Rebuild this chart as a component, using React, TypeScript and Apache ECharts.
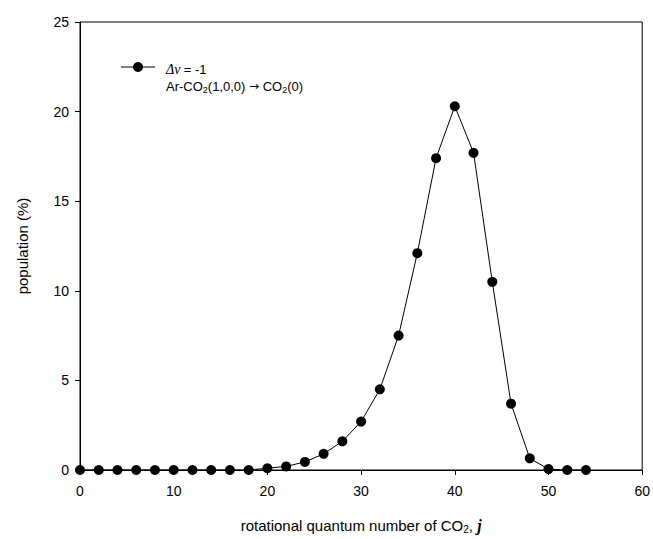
import React, { useEffect, useRef } from "react";
import * as echarts from "echarts";

const jValues = [0, 2, 4, 6, 8, 10, 12, 14, 16, 18, 20, 22, 24, 26, 28, 30, 32, 34, 36, 38, 40, 42, 44, 46, 48, 50, 52, 54];
const population = [0, 0, 0, 0, 0, 0, 0, 0, 0, 0, 0.1, 0.2, 0.45, 0.9, 1.6, 2.7, 4.5, 7.5, 12.1, 17.4, 20.3, 17.7, 10.5, 3.7, 0.65, 0.05, 0, 0];
const xTicks = [0, 10, 20, 30, 40, 50, 60];
const yTicks = [0, 5, 10, 15, 20, 25];

const FONT = "Liberation Sans, Arial, sans-serif";

export default function App() {
  const ref = useRef<HTMLDivElement>(null);
  useEffect(() => {
    if (!ref.current) return;
    const chart = echarts.init(ref.current, undefined, { renderer: "svg" });
    const axisLine = { show: true, lineStyle: { color: "#000", width: 1 } };
    chart.setOption({
      animation: false,
      backgroundColor: "#fff",
      grid: { left: 80, right: 10, top: 22, bottom: 67, show: true, borderColor: "#000", borderWidth: 1, backgroundColor: "transparent" },
      xAxis: {
        type: "value",
        min: xTicks[0],
        max: xTicks[xTicks.length - 1],
        interval: 10,
        axisLine,
        axisTick: { show: true, inside: false, length: 5, lineStyle: { color: "#000" } },
        axisLabel: { color: "#000", fontFamily: FONT, fontSize: 14, margin: 14 },
        splitLine: { show: false },
        name: "{a|rotational quantum number of CO}{s|2}{a|, }{j|j}",
        nameLocation: "middle",
        nameGap: 46,
        nameTextStyle: {
          rich: {
            a: { fontFamily: FONT, fontSize: 15, color: "#000" },
            s: { fontFamily: FONT, fontSize: 10, color: "#000", verticalAlign: "bottom", padding: [8, 0, 0, 0] },
            j: { fontFamily: "Liberation Serif, serif", fontSize: 16, fontStyle: "italic", fontWeight: "bold", color: "#000" },
          },
        },
      },
      yAxis: {
        type: "value",
        min: yTicks[0],
        max: yTicks[yTicks.length - 1],
        interval: 5,
        axisLine,
        axisTick: { show: true, inside: false, length: 5, lineStyle: { color: "#000" } },
        axisLabel: { color: "#000", fontFamily: FONT, fontSize: 14, margin: 11 },
        splitLine: { show: false },
        name: "population (%)",
        nameLocation: "middle",
        nameGap: 50,
        nameTextStyle: { fontFamily: FONT, fontSize: 15, color: "#000" },
      },
      series: [
        {
          type: "line",
          data: jValues.map((j, i) => [j, population[i]]),
          symbol: "circle",
          symbolSize: 10,
          itemStyle: { color: "#000" },
          lineStyle: { color: "#000", width: 1 },
          z: 3,
        },
      ],
      graphic: [
        { type: "line", shape: { x1: 121, y1: 67, x2: 155, y2: 67 }, style: { stroke: "#000", lineWidth: 1 } },
        { type: "circle", shape: { cx: 138, cy: 67, r: 5 }, style: { fill: "#000" } },
        {
          type: "text",
          x: 166,
          y: 62,
          style: {
            text: "{i|Δv} {a|= -1}",
            rich: {
              i: { fontFamily: "Liberation Serif, serif", fontStyle: "italic", fontSize: 14, fill: "#000" },
              a: { fontFamily: FONT, fontSize: 13, fill: "#000" },
            },
          },
        },
        {
          type: "text",
          x: 166,
          y: 78,
          style: {
            text: "{a|Ar-CO}{s|2}{a|(1,0,0) }{r|→}{a| CO}{s|2}{a|(0)}",
            rich: {
              a: { fontFamily: FONT, fontSize: 13, fill: "#000" },
              r: { fontFamily: "DejaVu Sans, sans-serif", fontSize: 12, fill: "#000" },
              s: { fontFamily: FONT, fontSize: 9, fill: "#000", padding: [7, 0, 0, 0] },
            },
          },
        },
      ],
    });
    return () => chart.dispose();
  }, []);
  return <div ref={ref} style={{ width: 653, height: 539, position: "absolute", left: 0, top: 0 }} />;
}
